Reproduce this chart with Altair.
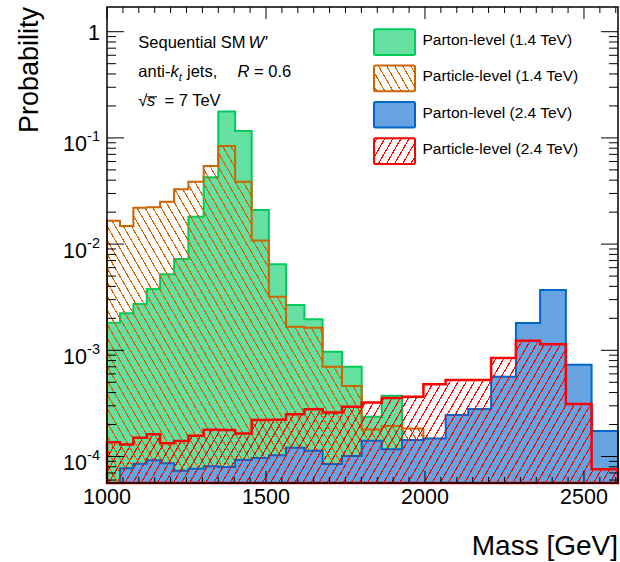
import math
import altair as alt
import pandas as pd

# ---------------- data ----------------
edges = [1000, 1041, 1083, 1125, 1167, 1211, 1256, 1304, 1350, 1403, 1455, 1509, 1563,
         1621, 1678, 1739, 1801, 1864, 1928, 1995, 2065, 2136, 2208, 2286, 2362, 2443,
         2524, 2607]

parton_14 = [1.82e-3, 2.23e-3, 2.73e-3, 3.78e-3, 5.19e-3, 7.24e-3, 1.81e-2, 4.26e-2,
             1.77e-1, 1.16e-1, 2.09e-2, 6.46e-3, 2.67e-3, 1.96e-3, 9.7e-4, 7.0e-4,
             2.37e-4, 3.74e-4, 1.0e-4]
particle_14 = [1.66e-2, 1.48e-2, 2.20e-2, 2.22e-2, 2.51e-2, 3.28e-2, 3.87e-2, 5.44e-2,
               8.39e-2, 3.87e-2, 1.08e-2, 3.20e-3, 1.67e-3, 1.63e-3, 7.0e-4, 4.61e-4,
               1.80e-4, 1.94e-4, 1.84e-4]
parton_24 = [4.5e-5, 7.74e-5, 8.55e-5, 9.2e-5, 8.63e-5, 7.33e-5, 7.66e-5, 8.09e-5,
             7.96e-5, 9.27e-5, 9.68e-5, 1.03e-4, 1.21e-4, 1.13e-4, 8.5e-5, 1.01e-4,
             1.41e-4, 1.17e-4, 1.43e-4, 1.48e-4, 2.46e-4, 2.80e-4, 5.64e-4, 1.81e-3,
             3.70e-3, 7.3e-4, 1.74e-4]
particle_24 = [1.36e-4, 1.30e-4, 1.50e-4, 1.62e-4, 1.33e-4, 1.40e-4, 1.57e-4, 1.79e-4,
               1.78e-4, 1.65e-4, 2.21e-4, 2.22e-4, 2.50e-4, 2.78e-4, 2.59e-4, 2.94e-4,
               3.22e-4, 3.55e-4, 3.65e-4, 4.78e-4, 5.25e-4, 5.25e-4, 8.45e-4, 1.23e-3,
               1.14e-3, 3.12e-4, 7.6e-5]

legend_labels = ["Parton-level (1.4 TeV)", "Particle-level (1.4 TeV)",
                 "Parton-level (2.4 TeV)", "Particle-level (2.4 TeV)"]
x_major = [1000, 1500, 2000, 2500]
x_labels = ["1000", "1500", "2000", "2500"]
y_major = [1e-4, 1e-3, 1e-2, 1e-1]
y_exp = ["-4", "-3", "-2", "-1"]

# ---------------- layout / style ----------------
W, H = 511, 476
XMIN, XMAX = 1000, 2607
YMIN, YMAX = 5.63e-5, 1.709
FONT = "Liberation Sans"

GREEN_F, GREEN_L = "#66e0a0", "#00cc5c"
ORANGE = "#cc6600"
BLUE_F, BLUE_L = "#66a3e0", "#0066cc"
RED = "#ff0000"

xs = alt.Scale(domain=[XMIN, XMAX], nice=False, zero=False)
ys = alt.Scale(type="log", domain=[YMIN, YMAX], nice=False, clamp=True)


def px(v):
    return (v - XMIN) / (XMAX - XMIN) * W


def py(v):
    v = max(v, YMIN)
    return (math.log10(YMAX) - math.log10(v)) / (math.log10(YMAX) - math.log10(YMIN)) * H


def hatch(bw, bh, color, forward, theta=60.0, spacing=7.0, lw=1.1):
    th = math.radians(theta)
    s, c = math.sin(th), math.cos(th)
    L = bw * s + bh * c
    k = L / (bw * bw * s * s + bh * bh * c * c)
    dx, dy = k * bw * s, k * bh * c
    if forward:
        x1, y1, x2, y2 = 0, 0, dx, dy
    else:
        x1, y1, x2, y2 = 0, 1, dx, 1 - dy
    clear = "rgba(255,255,255,0)"
    stops = [alt.GradientStop(offset=0, color=clear)]
    i = 0
    while True:
        a = (i * spacing + 2.0) / L
        b = (i * spacing + 2.0 + lw) / L
        if a >= 1:
            break
        b = min(b, 1)
        stops += [alt.GradientStop(offset=a, color=clear),
                  alt.GradientStop(offset=a, color=color),
                  alt.GradientStop(offset=b, color=color),
                  alt.GradientStop(offset=b, color=clear)]
        i += 1
    stops.append(alt.GradientStop(offset=1, color=clear))
    return alt.LinearGradient(gradient="linear", stops=stops, x1=x1, y1=y1, x2=x2, y2=y2)


def step_df(vals):
    n = len(vals)
    rows = [{"m": edges[i], "p": vals[i]} for i in range(n)]
    rows.append({"m": edges[n], "p": vals[n - 1]})
    return pd.DataFrame(rows)


def hist(vals, fill, stroke, sw):
    return alt.Chart(step_df(vals)).mark_area(
        interpolate="step-after", fill=fill, stroke=stroke, strokeWidth=sw,
        strokeJoin="miter"
    ).encode(
        x=alt.X("m:Q", scale=xs, axis=None),
        y=alt.Y("p:Q", scale=ys, axis=None),
        y2=alt.value(H),
    )


def bbox(vals):
    return px(edges[len(vals)]), H - py(max(vals))


bw_o, bh_o = bbox(particle_14)
bw_r, bh_r = bbox(particle_24)

layers = [
    hist(parton_14, GREEN_F, GREEN_L, 2),
    hist(particle_14, hatch(bw_o, bh_o, ORANGE, False), ORANGE, 2),
    hist(parton_24, BLUE_F, BLUE_L, 2),
    hist(particle_24, hatch(bw_r, bh_r, RED, True), RED, 2.5),
]

# ---------------- ticks (inside the frame) ----------------
x_minor = [v for v in range(1050, 2601, 50) if v % 500 != 0]
y_minor = []
for e in range(-5, 1):
    for m in range(2, 10):
        v = m * 10 ** e
        if YMIN < v < YMAX:
            y_minor.append(v)

def xticks(vals, length):
    d = pd.DataFrame({"m": vals})
    base = alt.Chart(d).mark_rule(color="black", strokeWidth=1)
    return [
        base.encode(x=alt.X("m:Q", scale=xs, axis=None), y=alt.value(H), y2=alt.value(H - length)),
        base.encode(x=alt.X("m:Q", scale=xs, axis=None), y=alt.value(0), y2=alt.value(length)),
    ]

def yticks(vals, length):
    d = pd.DataFrame({"p": vals})
    base = alt.Chart(d).mark_rule(color="black", strokeWidth=1)
    return [
        base.encode(y=alt.Y("p:Q", scale=ys, axis=None), x=alt.value(0), x2=alt.value(length)),
        base.encode(y=alt.Y("p:Q", scale=ys, axis=None), x=alt.value(W), x2=alt.value(W - length)),
    ]

layers += xticks(x_major, 12) + xticks(x_minor, 6)
layers += yticks(y_major + [1.0], 17) + yticks(y_minor, 9)

layers.append(
    alt.Chart(pd.DataFrame({"a": [0]})).mark_rect(
        fill="white", fillOpacity=0, stroke="black", strokeWidth=1.5
    ).encode(x=alt.value(0), x2=alt.value(W), y=alt.value(0), y2=alt.value(H))
)

# ---------------- axis labels ----------------
layers.append(
    alt.Chart(pd.DataFrame({"m": x_major, "t": x_labels})).mark_text(
        font=FONT, fontSize=21.5, align="center", baseline="alphabetic", color="black"
    ).encode(x=alt.X("m:Q", scale=xs, axis=None), y=alt.value(H + 21), text="t:N")
)
ylab = pd.DataFrame({"p": y_major, "b": ["10"] * 4, "e": y_exp})
layers.append(
    alt.Chart(ylab).mark_text(font=FONT, fontSize=21.5, align="right",
                              baseline="alphabetic", dy=13.4, color="black")
    .encode(y=alt.Y("p:Q", scale=ys, axis=None), x=alt.value(-20), text="b:N")
)
layers.append(
    alt.Chart(ylab).mark_text(font=FONT, fontSize=14.5, align="right",
                              baseline="alphabetic", dy=3.4, color="black")
    .encode(y=alt.Y("p:Q", scale=ys, axis=None), x=alt.value(-7), text="e:N")
)
layers.append(
    alt.Chart(pd.DataFrame({"p": [1.0], "t": ["1"]})).mark_text(
        font=FONT, fontSize=21.5, align="right", baseline="alphabetic", dy=8.3, color="black"
    ).encode(y=alt.Y("p:Q", scale=ys, axis=None), x=alt.value(-7), text="t:N")
)


def txt(s, x, y, size, style="normal", align="left", angle=0):
    return alt.Chart(pd.DataFrame({"t": [s]})).mark_text(
        font=FONT, fontSize=size, fontStyle=style, align=align,
        baseline="alphabetic", angle=angle, color="black"
    ).encode(x=alt.value(x), y=alt.value(y), text="t:N")


layers.append(txt("Mass [GeV]", W, 547.5, 28, align="right"))
layers.append(txt("Probability", -69, 0, 27, align="right", angle=270))

# ---------------- annotations ----------------
AS = 16.5
layers += [
    txt("Sequential SM", 31.3, 41.3, AS),
    txt("W'", 141.5, 41.3, AS, style="italic"),
    txt("anti-", 31.3, 70.3, AS),
    txt("k", 63.6, 70.3, AS, style="italic"),
    txt("t", 71.8, 73.8, 11, style="italic"),
    txt("jets,", 80.0, 70.3, AS),
    txt("R", 130.5, 70.3, AS, style="italic"),
    txt("= 0.6", 147.0, 70.3, AS),
    txt("\u221a", 31.3, 99.0, AS),
    txt("s", 40.0, 99.0, AS, style="italic"),
    txt("= 7 TeV", 57.5, 99.0, AS),
    alt.Chart(pd.DataFrame({"a": [0]})).mark_rule(color="black", strokeWidth=1).encode(
        x=alt.value(39.5), x2=alt.value(50.0), y=alt.value(89.8)),
]

# ---------------- legend ----------------
LX0, LX1 = 267, 308
LH = 25.7
ly = [22.3, 58.6, 94.9, 131.2]
leg_fill = [GREEN_F, hatch(LX1 - LX0, LH, ORANGE, False), BLUE_F, hatch(LX1 - LX0, LH, RED, True)]
leg_stroke = [GREEN_L, ORANGE, BLUE_L, RED]
for i in range(4):
    layers.append(
        alt.Chart(pd.DataFrame({"a": [0]})).mark_rect(
            fill=leg_fill[i], stroke=leg_stroke[i], strokeWidth=2, cornerRadius=1.5
        ).encode(x=alt.value(LX0), x2=alt.value(LX1), y=alt.value(ly[i]), y2=alt.value(ly[i] + LH))
    )
    layers.append(txt(legend_labels[i], 315.5, ly[i] + 15.8, 15.5))

chart = alt.layer(*layers).properties(
    width=W, height=H,
    padding={"left": 107, "top": 7, "right": 2, "bottom": 79},
    autosize="none",
    background="white",
).configure_view(strokeWidth=0)

chart.save("out.html", embed_options={"renderer": "svg", "actions": False})
